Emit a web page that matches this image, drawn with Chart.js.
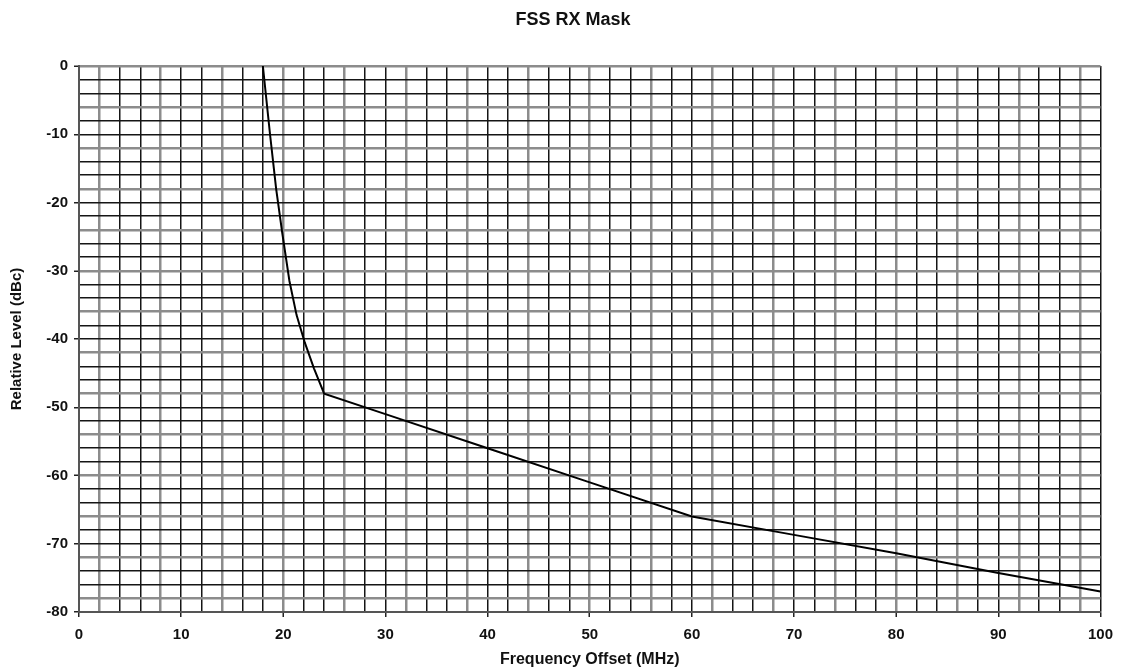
<!DOCTYPE html>
<html>
<head>
<meta charset="utf-8">
<script src="https://cdn.jsdelivr.net/npm/chart.js@4/dist/chart.umd.min.js"></script>
<style>
  html, body { margin: 0; padding: 0; background: #ffffff; }
  #wrap { width: 1122px; height: 671px; }
</style>
</head>
<body>
<div id="wrap"><canvas id="c" width="1122" height="671"></canvas></div>
<script>
// ---- data ----
const chartTitle = "FSS RX Mask";
const xTitle = "Frequency Offset (MHz)";
const yTitle = "Relative Level (dBc)";
const freqMHz = [18, 18.7, 19.3, 19.9, 20.6, 21.3, 22.1, 23, 24, 30, 40, 50, 60, 70, 80, 90, 100];
const levelDbc = [0, -10, -18, -24.5, -31.5, -36.5, -40.5, -44.3, -48, -51, -56, -61, -66, -68.7, -71.4, -74.3, -77];
const xTickLabels = [0, 10, 20, 30, 40, 50, 60, 70, 80, 90, 100];
const yTickLabels = [0, -10, -20, -30, -40, -50, -60, -70, -80];

const FONT = "'Liberation Sans', Arial, Helvetica, sans-serif";

const points = freqMHz.map((f, i) => ({ x: f, y: levelDbc[i] }));

function gridColor(ctx) {
  const i = ctx.index;
  return (i % 3 === 1) ? '#8c8c8c' : '#151515';
}
function gridWidth(ctx) {
  const i = ctx.index;
  return (i % 3 === 1) ? 2.5 : 1.5;
}

const titlePlugin = {
  id: 'scanTitle',
  afterDraw(chart) {
    const c = chart.ctx;
    c.save();
    c.font = "bold 18px " + FONT;
    c.fillStyle = '#111';
    c.textAlign = 'center';
    c.textBaseline = 'middle';
    c.fillText(chartTitle, 573, 20);
    c.restore();
  }
};

new Chart(document.getElementById('c'), {
  type: 'scatter',
  data: {
    datasets: [{
      data: points,
      showLine: true,
      borderColor: '#000000',
      borderWidth: 2,
      pointRadius: 0,
      tension: 0,
      fill: false
    }]
  },
  options: {
    responsive: false,
    animation: false,
    devicePixelRatio: 1,
    layout: { padding: { top: 66, right: 19, left: 0, bottom: 0 } },
    plugins: {
      legend: { display: false },
      title: { display: false },
      tooltip: { enabled: false }
    },
    scales: {
      x: {
        type: 'linear',
        min: 0, max: 100,
        afterFit(scale) { scale.height = 59; },
        ticks: {
          stepSize: 2,
          autoSkip: false,
          maxRotation: 0,
          padding: 9,
          color: '#111',
          font: { family: FONT, size: 15, weight: 'bold' },
          callback: (v) => xTickLabels.includes(v) ? String(v) : ''
        },
        grid: {
          color: gridColor,
          lineWidth: gridWidth,
          drawTicks: true,
          tickLength: 5,
          tickColor: (ctx) => (ctx.tick && xTickLabels.includes(ctx.tick.value)) ? '#222' : 'rgba(0,0,0,0)',
          tickWidth: 1.5
        },
        border: { display: true, color: '#555', width: 2 },
        title: {
          display: true,
          text: xTitle,
          color: '#111',
          font: { family: FONT, size: 16, weight: 'bold' },
          padding: { top: 0, bottom: 1.5 }
        }
      },
      y: {
        type: 'linear',
        min: -80, max: 0,
        afterFit(scale) { scale.width = 79; },
        ticks: {
          stepSize: 2,
          autoSkip: false,
          padding: 6,
          color: '#111',
          font: { family: FONT, size: 15, weight: 'bold' },
          callback: (v) => yTickLabels.includes(v) ? String(v) : ''
        },
        grid: {
          color: gridColor,
          lineWidth: gridWidth,
          drawTicks: true,
          tickLength: 5,
          tickColor: (ctx) => (ctx.tick && yTickLabels.includes(ctx.tick.value)) ? '#222' : 'rgba(0,0,0,0)',
          tickWidth: 1.5
        },
        border: { display: true, color: '#555', width: 2 },
        title: {
          display: true,
          text: yTitle,
          color: '#111',
          font: { family: FONT, size: 15, weight: 'bold' },
          padding: { top: 8, bottom: 0 }
        }
      }
    }
  },
  plugins: [titlePlugin]
});
</script>
</body>
</html>
